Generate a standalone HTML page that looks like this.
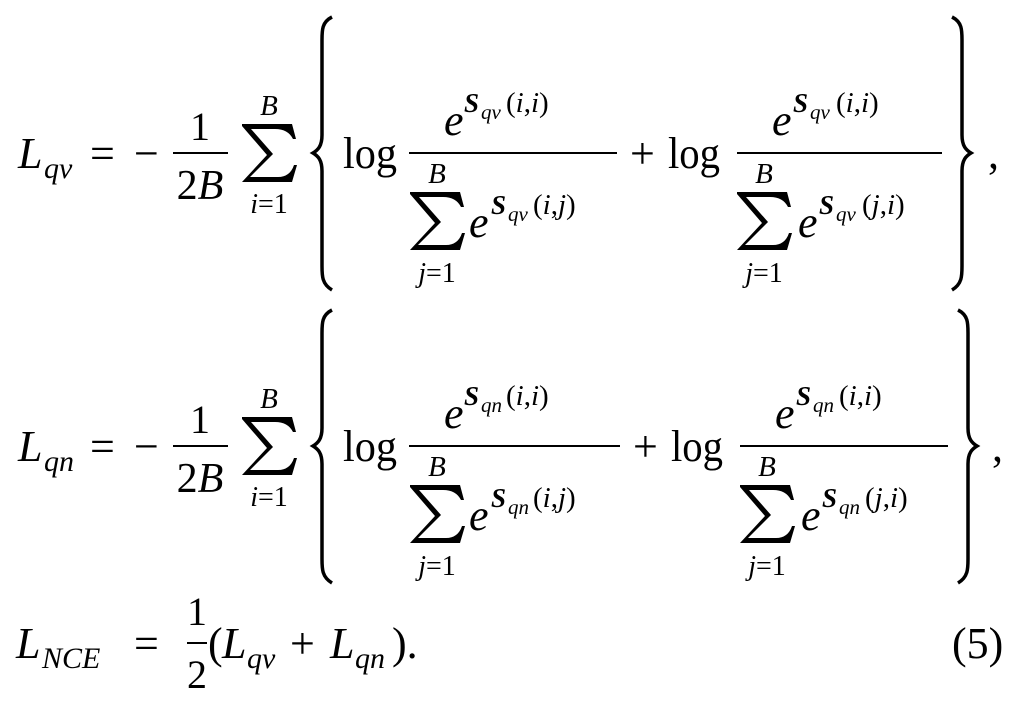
<!DOCTYPE html>
<html><head><meta charset="utf-8"><style>
html,body{margin:0;padding:0;background:#fff;}
svg{display:block}
text{font-family:"Liberation Serif",serif;fill:#000}
.i{font-style:italic}
.b{font-weight:bold;font-style:italic}
</style></head><body>
<svg width="1024" height="706" viewBox="0 0 1024 706" xmlns="http://www.w3.org/2000/svg">
<defs>
<path id="sig" d="M0,0 H50 L54,15 H51 Q46,5 33,5 H9 L31,30 L8,53 H36 Q48,53 52,41 H55 L50,58 H0 L25,31 L0,2 Z"/>
</defs>

<g id="row1">
<text class="i" x="18" y="168" font-size="44">L</text>
<text class="i" x="44" y="178" font-size="30">qv</text>
<text x="90" y="168" font-size="44">=</text>
<text x="134" y="168" font-size="44">−</text>
<text x="200" y="140" font-size="40" text-anchor="middle">1</text>
<line x1="173" y1="153" x2="228" y2="153" stroke="#000" stroke-width="2"/>
<text x="200" y="199" font-size="42" text-anchor="middle">2<tspan class="i">B</tspan></text>
<use href="#sig" x="242" y="124"/>
<text class="i" x="269" y="115" font-size="29" text-anchor="middle">B</text>
<text x="269" y="213" font-size="28" text-anchor="middle"><tspan class="i">i</tspan>=1</text>
<path d="M332,17 C322,22 322,30 322,40 L322,135 C322,146 318,150 313,153 C318,156 322,160 322,171 L322,266 C322,276 322,284 332,290" fill="none" stroke="#000" stroke-width="3.5"/>
<text x="343" y="168" font-size="44" textLength="54" lengthAdjust="spacingAndGlyphs">log</text>
<line x1="409" y1="153" x2="617" y2="153" stroke="#000" stroke-width="2"/>
<text class="i" x="444" y="135" font-size="44">e</text>
<text class="b" x="464" y="112" font-size="27">S</text>
<text class="i" x="481" y="119" font-size="21">qv</text>
<text x="506" y="112" font-size="29">(<tspan class="i">i</tspan>,<tspan class="i">i</tspan>)</text>
<text class="i" x="437" y="183" font-size="29" text-anchor="middle">B</text>
<use href="#sig" x="410" y="192"/>
<text x="437" y="282" font-size="28" text-anchor="middle"><tspan class="i">j</tspan>=1</text>
<text class="i" x="469" y="237" font-size="44">e</text>
<text class="b" x="491" y="214" font-size="27">S</text>
<text class="i" x="508" y="221" font-size="21">qv</text>
<text x="533" y="214" font-size="29">(<tspan class="i">i</tspan>,<tspan class="i">j</tspan>)</text>
<text x="630" y="168" font-size="44">+</text>
<text x="668" y="168" font-size="44" textLength="52" lengthAdjust="spacingAndGlyphs">log</text>
<line x1="737" y1="153" x2="942" y2="153" stroke="#000" stroke-width="2"/>
<text class="i" x="772" y="135" font-size="44">e</text>
<text class="b" x="793" y="112" font-size="27">S</text>
<text class="i" x="810" y="119" font-size="21">qv</text>
<text x="836" y="112" font-size="29">(<tspan class="i">i</tspan>,<tspan class="i">i</tspan>)</text>
<text class="i" x="764" y="183" font-size="29" text-anchor="middle">B</text>
<use href="#sig" x="737" y="192"/>
<text x="764" y="282" font-size="28" text-anchor="middle"><tspan class="i">j</tspan>=1</text>
<text class="i" x="798" y="237" font-size="44">e</text>
<text class="b" x="819" y="214" font-size="27">S</text>
<text class="i" x="836" y="221" font-size="21">qv</text>
<text x="862" y="214" font-size="29">(<tspan class="i">j</tspan>,<tspan class="i">i</tspan>)</text>
<path d="M952,17 C962,22 962,30 962,40 L962,135 C962,146 966,150 971,153 C966,156 962,160 962,171 L962,266 C962,276 962,284 952,290" fill="none" stroke="#000" stroke-width="3.5"/>
<text x="988" y="168" font-size="44">,</text>
</g>

<g transform="translate(0,293)">
<text class="i" x="18" y="168" font-size="44">L</text>
<text class="i" x="44" y="178" font-size="30">qn</text>
<text x="90" y="168" font-size="44">=</text>
<text x="134" y="168" font-size="44">−</text>
<text x="200" y="140" font-size="40" text-anchor="middle">1</text>
<line x1="173" y1="153" x2="228" y2="153" stroke="#000" stroke-width="2"/>
<text x="200" y="199" font-size="42" text-anchor="middle">2<tspan class="i">B</tspan></text>
<use href="#sig" x="242" y="124"/>
<text class="i" x="269" y="115" font-size="29" text-anchor="middle">B</text>
<text x="269" y="213" font-size="28" text-anchor="middle"><tspan class="i">i</tspan>=1</text>
<path d="M332,17 C322,22 322,30 322,40 L322,135 C322,146 318,150 313,153 C318,156 322,160 322,171 L322,266 C322,276 322,284 332,290" fill="none" stroke="#000" stroke-width="3.5"/>
<text x="343" y="168" font-size="44" textLength="54" lengthAdjust="spacingAndGlyphs">log</text>
<line x1="409" y1="153" x2="620" y2="153" stroke="#000" stroke-width="2"/>
<text class="i" x="444" y="135" font-size="44">e</text>
<text class="b" x="464" y="112" font-size="27">S</text>
<text class="i" x="481" y="119" font-size="21">qn</text>
<text x="506" y="112" font-size="29">(<tspan class="i">i</tspan>,<tspan class="i">i</tspan>)</text>
<text class="i" x="437" y="183" font-size="29" text-anchor="middle">B</text>
<use href="#sig" x="410" y="192"/>
<text x="437" y="282" font-size="28" text-anchor="middle"><tspan class="i">j</tspan>=1</text>
<text class="i" x="469" y="237" font-size="44">e</text>
<text class="b" x="491" y="214" font-size="27">S</text>
<text class="i" x="508" y="221" font-size="21">qn</text>
<text x="533" y="214" font-size="29">(<tspan class="i">i</tspan>,<tspan class="i">j</tspan>)</text>
<text x="633" y="168" font-size="44">+</text>
<text x="671" y="168" font-size="44" textLength="52" lengthAdjust="spacingAndGlyphs">log</text>
<line x1="740" y1="153" x2="948" y2="153" stroke="#000" stroke-width="2"/>
<text class="i" x="775" y="135" font-size="44">e</text>
<text class="b" x="796" y="112" font-size="27">S</text>
<text class="i" x="813" y="119" font-size="21">qn</text>
<text x="839" y="112" font-size="29">(<tspan class="i">i</tspan>,<tspan class="i">i</tspan>)</text>
<text class="i" x="767" y="183" font-size="29" text-anchor="middle">B</text>
<use href="#sig" x="740" y="192"/>
<text x="767" y="282" font-size="28" text-anchor="middle"><tspan class="i">j</tspan>=1</text>
<text class="i" x="801" y="237" font-size="44">e</text>
<text class="b" x="822" y="214" font-size="27">S</text>
<text class="i" x="839" y="221" font-size="21">qn</text>
<text x="865" y="214" font-size="29">(<tspan class="i">j</tspan>,<tspan class="i">i</tspan>)</text>
<path d="M958,17 C968,22 968,30 968,40 L968,135 C968,146 972,150 977,153 C972,156 968,160 968,171 L968,266 C968,276 968,284 958,290" fill="none" stroke="#000" stroke-width="3.5"/>
<text x="992" y="168" font-size="44">,</text>
</g>

<g>
<text class="i" x="16" y="658" font-size="44">L</text>
<text class="i" x="42" y="668" font-size="30">NCE</text>
<text x="134" y="658" font-size="44">=</text>
<text x="197" y="625" font-size="40" text-anchor="middle">1</text>
<line x1="187" y1="643" x2="207" y2="643" stroke="#000" stroke-width="2"/>
<text x="197" y="688" font-size="40" text-anchor="middle">2</text>
<text x="208" y="658" font-size="44">(</text>
<text class="i" x="222" y="658" font-size="44">L</text>
<text class="i" x="247" y="668" font-size="30">qv</text>
<text x="290" y="658" font-size="44">+</text>
<text class="i" x="330" y="658" font-size="44">L</text>
<text class="i" x="355" y="668" font-size="30">qn</text>
<text x="392" y="658" font-size="44">).</text>
<text x="952" y="658" font-size="44">(5)</text>
</g>
</svg>
</body></html>
